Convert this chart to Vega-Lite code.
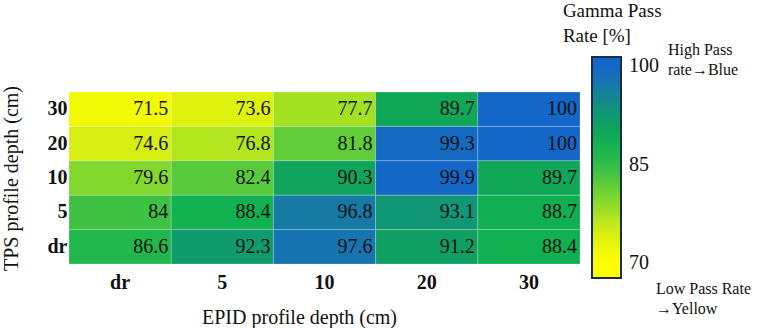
{
  "$schema": "https://vega.github.io/schema/vega-lite/v6.json",
  "width": 511,
  "height": 172,
  "autosize": {"type": "none"},
  "padding": {"left": 69, "top": 92, "right": 180, "bottom": 64},
  "background": "white",
  "config": {"view": {"stroke": null}, "font": "Liberation Serif"},
  "datasets": {
    "cells": [
      {"tps": "30", "epid": "dr", "rate": 71.5},
      {"tps": "30", "epid": "5", "rate": 73.6},
      {"tps": "30", "epid": "10", "rate": 77.7},
      {"tps": "30", "epid": "20", "rate": 89.7},
      {"tps": "30", "epid": "30", "rate": 100},
      {"tps": "20", "epid": "dr", "rate": 74.6},
      {"tps": "20", "epid": "5", "rate": 76.8},
      {"tps": "20", "epid": "10", "rate": 81.8},
      {"tps": "20", "epid": "20", "rate": 99.3},
      {"tps": "20", "epid": "30", "rate": 100},
      {"tps": "10", "epid": "dr", "rate": 79.6},
      {"tps": "10", "epid": "5", "rate": 82.4},
      {"tps": "10", "epid": "10", "rate": 90.3},
      {"tps": "10", "epid": "20", "rate": 99.9},
      {"tps": "10", "epid": "30", "rate": 89.7},
      {"tps": "5", "epid": "dr", "rate": 84},
      {"tps": "5", "epid": "5", "rate": 88.4},
      {"tps": "5", "epid": "10", "rate": 96.8},
      {"tps": "5", "epid": "20", "rate": 93.1},
      {"tps": "5", "epid": "30", "rate": 88.7},
      {"tps": "dr", "epid": "dr", "rate": 86.6},
      {"tps": "dr", "epid": "5", "rate": 92.3},
      {"tps": "dr", "epid": "10", "rate": 97.6},
      {"tps": "dr", "epid": "20", "rate": 91.2},
      {"tps": "dr", "epid": "30", "rate": 88.4}
    ]
  },
  "layer": [
    {
      "data": {"name": "cells"},
      "mark": {"type": "rect", "stroke": "#ffffff", "strokeOpacity": 0.25, "strokeWidth": 0.8},
      "encoding": {
        "x": {
          "field": "epid",
          "type": "nominal",
          "scale": {"domain": ["dr", "5", "10", "20", "30"], "paddingInner": 0, "paddingOuter": 0},
          "axis": {
            "orient": "bottom",
            "title": "EPID profile depth (cm)",
            "titleFont": "Liberation Serif",
            "titleFontSize": 20,
            "titleFontWeight": "normal",
            "titleColor": "#111111",
            "titleX": 230,
            "titlePadding": 15,
            "labelFont": "Liberation Serif",
            "labelFontSize": 20,
            "labelFontWeight": "bold",
            "labelColor": "#111111",
            "labelAngle": 0,
            "labelPadding": 8,
            "ticks": false,
            "domain": false
          }
        },
        "y": {
          "field": "tps",
          "type": "nominal",
          "scale": {"domain": ["30", "20", "10", "5", "dr"], "paddingInner": 0, "paddingOuter": 0},
          "axis": {
            "title": "TPS profile depth (cm)",
            "titleFont": "Liberation Serif",
            "titleFontSize": 20,
            "titleFontWeight": "normal",
            "titleColor": "#111111",
            "titlePadding": 26,
            "labelFont": "Liberation Serif",
            "labelFontSize": 20,
            "labelFontWeight": "bold",
            "labelColor": "#111111",
            "labelPadding": 2,
            "ticks": false,
            "domain": false
          }
        },
        "color": {
          "field": "rate",
          "type": "quantitative",
          "scale": {
            "domain": [67.7, 70, 75, 80, 85, 88.5, 91, 93, 97, 100, 101.4],
            "range": ["#ffff00", "#ffff00", "#d2ed14", "#7cd630", "#30bc48", "#10b050", "#10a060", "#109874", "#1678a8", "#1466c8", "#1466c8"],
            "interpolate": "rgb"
          },
          "legend": {
            "orient": "none",
            "legendX": 523,
            "legendY": -35,
            "title": null,
            "padding": 0,
            "direction": "vertical",
            "gradientLength": 221,
            "gradientThickness": 29,
            "gradientStrokeColor": "#1d2b4a",
            "gradientStrokeWidth": 2,
            "values": [70, 85, 100],
            "labelFont": "Liberation Serif",
            "labelFontSize": 20,
            "labelColor": "#111111",
            "labelOffset": 8,
            "labelOverlap": false
          }
        }
      }
    },
    {
      "data": {"name": "cells"},
      "mark": {"type": "text", "align": "right", "baseline": "middle", "dx": -3, "font": "Liberation Serif", "fontSize": 20, "color": "#111111"},
      "encoding": {
        "x": {"field": "epid", "type": "nominal", "bandPosition": 1},
        "y": {"field": "tps", "type": "nominal"},
        "text": {"field": "rate", "type": "quantitative", "format": "~g"}
      }
    },
    {
      "data": {"values": [{"note": "Gamma Pass\nRate [%]"}]},
      "mark": {"type": "text", "align": "left", "baseline": "alphabetic", "lineBreak": "\n", "lineHeight": 25, "dx": 34, "dy": -92, "font": "Liberation Serif", "fontSize": 19, "color": "#111111"},
      "encoding": {
        "x": {"datum": "30", "type": "nominal"},
        "y": {"datum": "30", "type": "nominal"},
        "text": {"field": "note"}
      }
    },
    {
      "data": {"values": [{"note": "High Pass\nrate→Blue"}]},
      "mark": {"type": "text", "align": "left", "baseline": "alphabetic", "lineBreak": "\n", "lineHeight": 20, "dx": 139, "dy": -54, "font": "Liberation Serif", "fontSize": 16, "color": "#111111"},
      "encoding": {
        "x": {"datum": "30", "type": "nominal"},
        "y": {"datum": "30", "type": "nominal"},
        "text": {"field": "note"}
      }
    },
    {
      "data": {"values": [{"note": "Low Pass Rate\n→Yellow"}]},
      "mark": {"type": "text", "align": "left", "baseline": "alphabetic", "lineBreak": "\n", "lineHeight": 20, "dx": 127, "dy": 47, "font": "Liberation Serif", "fontSize": 16, "color": "#111111"},
      "encoding": {
        "x": {"datum": "30", "type": "nominal"},
        "y": {"datum": "dr", "type": "nominal"},
        "text": {"field": "note"}
      }
    }
  ]
}
